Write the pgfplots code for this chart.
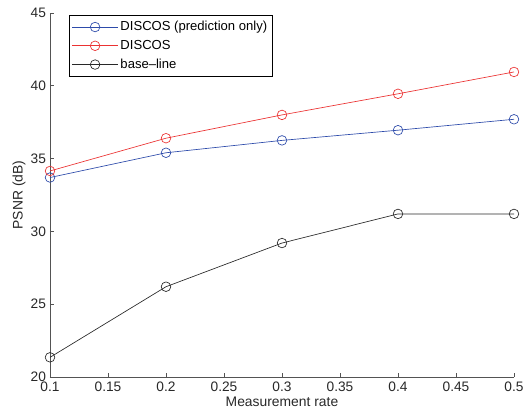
\documentclass[border=0pt]{standalone}
\usepackage{pgfplots}
\pgfplotsset{compat=1.18}
\usepackage{fontspec}
\setmainfont{Liberation Sans}
\definecolor{mblue}{RGB}{45,75,170}
\definecolor{mred}{RGB}{235,50,50}
\definecolor{mblack}{RGB}{40,40,40}
\pgfplotsset{
  longleg/.style={legend image code/.code={\draw[mark repeat=2,mark phase=2,##1] plot coordinates {(0pt,0pt) (17pt,0pt) (34pt,0pt)};}},
  myplot/.style={line width=0.5pt, mark=o, mark size=3.6pt, mark options={line width=0.5pt}},
}
\begin{document}
\begin{tikzpicture}
\begin{axis}[
  name=ax,
  scale only axis,
  width=348pt, height=273pt,
  xmin=0.1, xmax=0.5, ymin=20, ymax=45,
  axis lines*=left,
  axis line style={color=mblack!80, line width=0.5pt},
  tick align=inside,
  major tick length=3pt,
  tick style={color=mblack!80, line width=0.5pt},
  xtick={0.1,0.15,...,0.5},
  ytick={20,25,...,45},
  /pgf/number format/assume math mode=true,
  /pgf/number format/fixed,
  tick label style={font=\fontsize{10.3}{11}\selectfont, text=mblack},
  yticklabel style={xshift=0.5pt},
  label style={font=\fontsize{10.4}{12}\selectfont, text=mblack},
  xlabel={Measurement rate},
  ylabel={PSNR (dB)},
  xlabel style={yshift=3pt},
  ylabel style={yshift=-3pt},
  legend style={at={(0.041,0.994)}, anchor=north west, draw=black, line width=0.6pt,
    font=\fontsize{9.8}{11}\selectfont, inner xsep=2pt, inner ysep=2.5pt, row sep=2pt,
    nodes={inner sep=1.8pt}},
  legend cell align=left,
  longleg,
]
\addlegendimage{myplot, color=mblue, longleg}
\addlegendentry{DISCOS (prediction only)}
\addlegendimage{myplot, color=mred, longleg}
\addlegendentry{DISCOS}
\addlegendimage{myplot, color=mblack, longleg}
\addlegendentry{base\textendash line}
\addplot[myplot, color=mblue, forget plot] coordinates {(0.1,33.7) (0.2,35.4) (0.3,36.25) (0.4,36.95) (0.5,37.7)};
\addplot[myplot, color=mred, forget plot] coordinates {(0.1,34.15) (0.2,36.4) (0.3,38.0) (0.4,39.45) (0.5,40.95)};
\addplot[myplot, color=mblack, forget plot] coordinates {(0.1,21.35) (0.2,26.2) (0.3,29.2) (0.4,31.2) (0.5,31.2)};
\end{axis}
\pgfresetboundingbox
\path ([xshift=-37.5pt,yshift=-31.5pt]ax.south west) rectangle ([xshift=7.5pt,yshift=9.75pt]ax.north east);
\end{tikzpicture}
\end{document}
